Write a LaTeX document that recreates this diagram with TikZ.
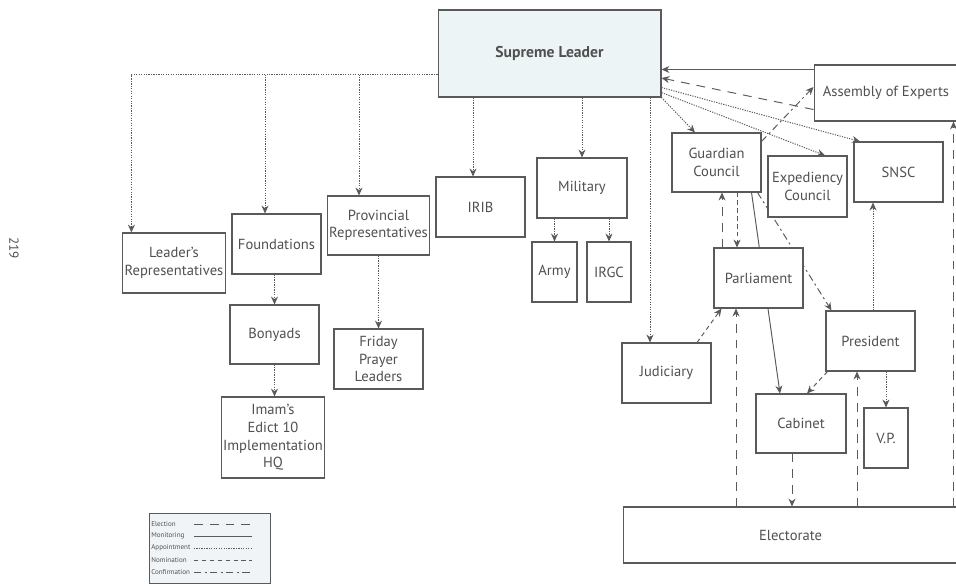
\documentclass[tikz,border=0pt]{standalone}
\usepackage{fontspec}
\setmainfont{PT Sans}
\usetikzlibrary{arrows.meta, calc, backgrounds}
\definecolor{ink}{HTML}{505050}
\definecolor{edge}{HTML}{5A5A5A}
\definecolor{slfill}{HTML}{ECF4F6}
\definecolor{legfill}{HTML}{F1F4F6}
\tikzset{
  org/.style={draw=edge, fill=white, text=ink, align=center, inner sep=1pt, line width=0.6pt,
    font=\fontsize{8.3}{10}\selectfont, minimum width=1.78cm, minimum height=1.2cm},
  link/.style={draw=edge, line width=0.55pt, -{Stealth[length=4.5pt,width=4pt]}},
  elect/.style={link, dash pattern=on 5pt off 4pt},
  monitor/.style={link},
  appoint/.style={link, dash pattern=on 0.7pt off 0.7pt},
  nominate/.style={link, dash pattern=on 2.5pt off 2pt},
  confirm/.style={link, dash pattern=on 4pt off 2pt on 1.2pt off 2pt},
  legtext/.style={text=ink, font=\fontsize{4}{5}\selectfont, inner sep=0pt, anchor=west},
}
\begin{document}
\begin{tikzpicture}[x=0.02cm, y=-0.02cm]
\useasboundingbox (0,0) rectangle (956,586);
\clip (0,0) rectangle (956,586);

% offices
\node[org, fill=slfill, minimum width=4.46cm, minimum height=1.74cm,
  font=\fontsize{8.9}{10}\selectfont\bfseries] (sl) at (549.5,53.5) {Supreme Leader};
\node[org, minimum width=2.88cm, minimum height=1.12cm] (asm) at (886,93) {Assembly of Experts};
\node[org, minimum width=1.92cm] (lrep) at (174,263) {Leader's\\Representatives};
\node[org] (fnd) at (276.5,244) {Foundations};
\node[org, minimum height=1.18cm] (bon) at (274.5,334.5) {Bonyads};
\node[org, minimum width=2cm, minimum height=1.62cm] (imam) at (273,437.5) {Imam's\\Edict 10\\Implementation\\HQ};
\node[org, minimum width=1.9cm, minimum height=1.18cm] (prov) at (378.5,225.5) {Provincial\\Representatives};
\node[org] (fri) at (378.5,359) {Friday\\Prayer\\Leaders};
\node[org] (irib) at (480.5,207) {IRIB};
\node[org, minimum width=1.8cm] (mil) at (582,188) {Military};
\node[org, minimum width=0.9cm] (army) at (554.5,272) {Army};
\node[org, minimum width=0.88cm] (irgc) at (609,272) {IRGC};
\node[org] (jud) at (666.5,373) {Judiciary};
\node[org, minimum height=1.18cm] (gc) at (716.5,162.5) {Guardian\\Council};
\node[org, minimum width=1.58cm, minimum height=1.22cm] (exp) at (807.5,186.5) {Expediency\\Council};
\node[org] (snsc) at (898.5,172) {SNSC};
\node[org] (parl) at (758.5,278) {Parliament};
\node[org] (pres) at (870.5,341) {President};
\node[org, minimum width=1.8cm, minimum height=1.18cm] (cab) at (801,423.5) {Cabinet};
\node[org, minimum width=0.88cm] (vp) at (886,438) {V.P.};
\node[org, minimum width=6.7cm, minimum height=1.12cm] (elec) at (790.5,535) {Electorate};

% lines hidden behind Parliament
\begin{scope}[on background layer]
  \draw[monitor] ($(gc.south east)+(-10,0)$) -- ($(cab.north)+(-21,0)$);
  \draw[confirm] ($(gc.south east)+(-4,0)$) -- ($(pres.north west)+(6,0)$);
\end{scope}

% appointments from the leader
\coordinate (bus) at ($(sl.south west)+(0,-23)$);
\coordinate (lrepin) at ($(lrep.north west)+(9,0)$);
\coordinate (fndin) at ($(fnd.north)+(-11.5,0)$);
\coordinate (provin) at ($(prov.north)+(-19.5,0)$);
\coordinate (iribin) at ($(irib.north)+(-7.5,0)$);
\coordinate (judin) at ($(jud.north)+(-16.5,0)$);
\draw[appoint] (bus) -| (lrepin);
\draw[appoint] (fndin |- bus) -- (fndin);
\draw[appoint] (provin |- bus) -- (provin);
\draw[appoint] (iribin |- sl.south) -- (iribin);
\draw[appoint] (mil.north |- sl.south) -- (mil.north);
\draw[appoint] (judin |- sl.south) -- (judin);
\draw[appoint] (sl.south east) -- ($(gc.north)+(-21.5,0)$);
\draw[appoint] ($(sl.south east)+(0,-5)$) -- ($(exp.north)+(17.5,0)$);
\draw[appoint] ($(sl.south east)+(0,-10)$) -- ($(snsc.north)+(-38.5,0)$);
\draw[appoint] (army.north |- mil.south) -- (army.north);
\draw[appoint] (irgc.north |- mil.south) -- (irgc.north);
\draw[appoint] (bon.north |- fnd.south) -- (bon.north);
\draw[appoint] (bon.south) -- (bon.south |- imam.north);
\draw[appoint] (prov.south) -- (fri.north);

% assembly of experts
\coordinate (asmmon) at ($(asm.north west)+(0,5)$);
\draw[monitor] (asmmon) -- (asmmon -| sl.east);
\draw[elect] ($(asm.south west)+(0,-12)$) -- ($(sl.east)+(0,24.5)$);
\draw[confirm] ($(gc.north east)+(0,9)$) -- ($(asm.west)+(0,-6)$);

% guardian council and parliament
\coordinate (gcdown) at ($(parl.north)+(-21.5,0)$);
\coordinate (gcup) at ($(parl.north)+(-36.5,0)$);
\draw[nominate] (gcdown |- gc.south) -- (gcdown);
\draw[elect] (gcup) -- (gcup |- gc.south);
\draw[nominate] ($(jud.north)+(30.5,0)$) -- ($(parl.south west)+(8,0)$);

% executive
\coordinate (snscin) at ($(snsc.south)+(-25.5,0)$);
\draw[appoint] (snscin |- pres.north) -- (snscin);
\draw[appoint] (vp.north |- pres.south) -- (vp.north);
\draw[nominate] ($(pres.south west)+(2,0)$) -- ($(cab.north)+(6,0)$);

% electorate
\coordinate (parlin) at ($(parl.south)+(-22.5,0)$);
\coordinate (cabout) at ($(cab.south)+(-9,0)$);
\coordinate (presin) at ($(pres.south)+(-13.5,0)$);
\coordinate (asmin) at ($(asm.south east)+(-5,0)$);
\draw[elect] (parlin |- elec.north) -- (parlin);
\draw[elect] (cabout) -- (cabout |- elec.north);
\draw[elect] (presin |- elec.north) -- (presin);
\draw[elect] (asmin |- elec.north) -- (asmin);

% legend
\node[draw=edge, fill=legfill, line width=0.5pt, minimum width=2.42cm, minimum height=1.4cm,
  anchor=north west] (legend) at (149,513) {};
\foreach \key/\lab [count=\i] in {elect/Election, monitor/Monitoring, appoint/Appointment,
    nominate/Nomination, confirm/Confirmation} {
  \node[legtext] (leg\key) at (151,{512+12*\i}) {\lab};
  \draw[\key, -, line width=0.5pt] ($(legend.west |- leg\key.west)+(45,0)$) -- ++(58,0);
}

\node[rotate=-90, text=ink, font=\fontsize{7.5}{8}\selectfont] (pageno) at (14,248) {219};
\end{tikzpicture}
\end{document}
